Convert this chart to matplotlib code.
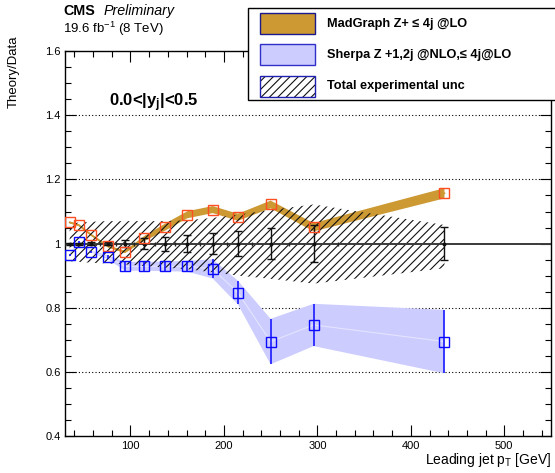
import matplotlib
matplotlib.use("Agg")
import matplotlib.pyplot as plt
from matplotlib.patches import Rectangle
from matplotlib.ticker import MultipleLocator, FuncFormatter
import numpy as np

plt.rcParams['font.family'] = ['Liberation Sans', 'DejaVu Sans']
plt.rcParams['mathtext.fontset'] = 'custom'
plt.rcParams['mathtext.rm'] = 'Liberation Sans'
plt.rcParams['mathtext.it'] = 'Liberation Sans:italic'
plt.rcParams['mathtext.bf'] = 'Liberation Sans:bold'
plt.rcParams['mathtext.default'] = 'regular'
plt.rcParams['hatch.linewidth'] = 0.8

# ---------------- data ----------------
pt = [35, 45, 58, 76, 94, 115, 137, 161, 188, 215, 250, 296, 436]
bin_edges = [30, 40, 50, 67, 85, 104, 126, 148, 174, 203, 230, 270, 322]

madgraph = [1.066, 1.057, 1.027, 0.991, 0.974, 1.016, 1.051, 1.090, 1.106, 1.082, 1.122, 1.051, 1.157]
madgraph_err = [0.003, 0.003, 0.003, 0.003, 0.004, 0.008, 0.011, 0.011, 0.011, 0.011, 0.012, 0.013, 0.016]

sherpa = [0.965, 1.006, 0.975, 0.957, 0.929, 0.929, 0.929, 0.929, 0.921, 0.847, 0.694, 0.746, 0.694]
sherpa_err = [0.003, 0.003, 0.003, 0.006, 0.014, 0.014, 0.015, 0.017, 0.030, 0.037, 0.071, 0.066, 0.099]

data_ratio = [1.0] * 13
data_stat = [0.003, 0.003, 0.004, 0.006, 0.012, 0.017, 0.022, 0.027, 0.032, 0.038, 0.047, 0.059, 0.052]

tot_unc_up = [0.065, 0.065, 0.068, 0.070, 0.070, 0.070, 0.070, 0.073, 0.080, 0.090, 0.105, 0.122, 0.058]
tot_unc_dn = [0.055, 0.057, 0.060, 0.062, 0.065, 0.070, 0.075, 0.080, 0.090, 0.100, 0.110, 0.125, 0.077]

legend_labels = ["MadGraph Z+ \u2264 4j @LO",
                 "Sherpa Z +1,2j @NLO,\u2264 4j@LO",
                 "Total experimental unc"]

x_ticks = [100, 200, 300, 400, 500]
y_ticks = [0.4, 0.6, 0.8, 1.0, 1.2, 1.4, 1.6]

# ---------------- figure ----------------
W, H = 555, 473
fig = plt.figure(figsize=(W / 100, H / 100), dpi=100)

def fx(px):
    return px / W

def fy(py):
    return 1 - py / H

ax_l, ax_r, ax_t, ax_b = 65, 551, 51.3, 435.8
ax = fig.add_axes([fx(ax_l), fy(ax_b), fx(ax_r) - fx(ax_l), fy(ax_t) - fy(ax_b)])

ptA = np.array(pt)
mg = np.array(madgraph); mge = np.array(madgraph_err)
sh = np.array(sherpa); she = np.array(sherpa_err)
up = np.array(tot_unc_up); dn = np.array(tot_unc_dn)

gold = '#cc9933'
lblue = '#ccccff'
orange = '#ff4f22'
blue = '#0a0aff'

# bands
ax.fill_between(ptA, sh - she, sh + she, facecolor=lblue, edgecolor='none', zorder=1)
ax.plot(ptA, sh, color='#e4e4ff', lw=0.8, zorder=1.2)
ax.fill_between(ptA, mg - mge, mg + mge, facecolor=gold, edgecolor='none', zorder=2)
ax.plot(ptA, mg, color=gold, lw=1.2, zorder=2.1)
ax.fill_between(ptA, 1 - dn, 1 + up, facecolor='none', edgecolor='#111111',
                hatch='////', linewidth=0, zorder=3)

# grid lines
for yv in y_ticks:
    if 0.4 < yv < 1.6 and yv != 1.0:
        ax.axhline(yv, color='black', lw=0.8, ls=(0, (1, 2)), zorder=0.5)

# reference line at 1 and data
ax.axhline(1.0, color='#3a3a3a', lw=1.4, zorder=4)
ax.plot(bin_edges, [1.0] * len(bin_edges), ls='none', marker='|', ms=3.5,
        mew=1.0, color='#222222', zorder=4.1)
ax.errorbar(pt, data_ratio, yerr=data_stat, fmt='o', ms=1.8, color='#111111',
            ecolor='#111111', elinewidth=1.0, capsize=2.6, capthick=1.0, zorder=5)

# sherpa markers
ax.errorbar(pt, sherpa, yerr=sherpa_err, fmt='s', ms=7.2, mfc='none', mec=blue,
            mew=1.0, ecolor=blue, elinewidth=1.1, capsize=0, zorder=6)
# madgraph markers
ax.plot(pt, madgraph, 's', ms=7.2, mfc='none', mec=orange, mew=1.0, zorder=6)

ax.set_xlim(30, 550)
ax.set_ylim(0.4, 1.6)
ax.set_xticks(x_ticks)
ax.set_yticks(y_ticks)
ax.xaxis.set_minor_locator(MultipleLocator(20))
ax.yaxis.set_minor_locator(MultipleLocator(0.05))
ax.yaxis.set_major_formatter(FuncFormatter(lambda v, p: '%g' % round(v, 2)))
ax.tick_params(which='both', direction='in', top=True, right=True, labelsize=8,
               width=0.8, colors='black')
ax.tick_params(which='major', length=8, pad=3)
ax.tick_params(which='minor', length=4)
ax.tick_params(axis='x', which='major', pad=3.5)
for s in ax.spines.values():
    s.set_linewidth(1.0)

# text
fig.text(fx(551), fy(464), r'Leading jet p$_\mathregular{T}$ [GeV]', ha='right',
         va='baseline', fontsize=10)
fig.text(fx(14), fy(36), 'Theory/Data', rotation=90, ha='center', va='top', fontsize=9.5)
fig.text(fx(63), fy(15), 'CMS', fontweight='bold', fontsize=10.3, ha='left', va='baseline')
fig.text(fx(104), fy(15), 'Preliminary', fontstyle='italic', fontsize=10.3, ha='left', va='baseline')
fig.text(fx(63), fy(33), r'19.6 fb$^{-1}$ (8 TeV)', fontsize=9.5, ha='left', va='baseline')
fig.text(fx(109), fy(106), r'0.0<|y$_\mathbf{j}$|<0.5', fontweight='bold', fontsize=12,
         ha='left', va='baseline')

# legend (drawn manually)
def frect(x0, y0, x1, y1, **kw):
    r = Rectangle((fx(x0), fy(y1)), fx(x1) - fx(x0), fy(y0) - fy(y1),
                  transform=fig.transFigure, **kw)
    fig.add_artist(r)
    return r

frect(248, 8, 570, 100, facecolor='white', edgecolor='black', lw=1.0, zorder=10)
rows = [(13.5, 34.5), (44.5, 65.5), (76, 97)]
frect(260, rows[0][0], 315, rows[0][1], facecolor=gold, edgecolor='#1a1a8c', lw=1.0, zorder=11)
frect(260, rows[1][0], 315, rows[1][1], facecolor=lblue, edgecolor='#3030c8', lw=1.0, zorder=11)
frect(260, rows[2][0], 315, rows[2][1], facecolor='white', edgecolor='#111111', hatch='////',
      lw=0, zorder=11)
frect(260, rows[2][0], 315, rows[2][1], facecolor='none', edgecolor='#2020b0', lw=1.0, zorder=12)
for (y0, y1), lab in zip(rows, legend_labels):
    fig.text(fx(327), fy((y0 + y1) / 2), lab, fontweight='bold', fontsize=9.2,
             ha='left', va='center', zorder=13)

fig.savefig('out.png', dpi=100)
